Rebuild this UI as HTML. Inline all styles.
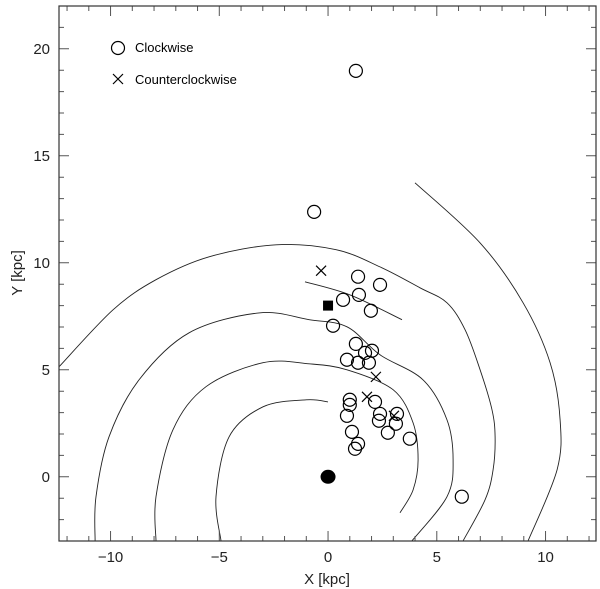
<!DOCTYPE html>
<html><head><meta charset="utf-8"><style>
html,body{margin:0;padding:0;background:#fff;}
svg{display:block;font-family:"Liberation Sans",sans-serif;}
</style></head><body>
<svg id="chart" width="600" height="589" viewBox="0 0 600 589" xmlns="http://www.w3.org/2000/svg">
<g id="arms"></g>
<g id="ticks"></g>
<rect x="59" y="6" width="537" height="535" fill="none" stroke="#333" stroke-width="1.2"/>
<g id="marks"></g>
<g id="labels" font-size="15" fill="#222"></g>
<text x="327" y="584" text-anchor="middle" font-size="15" fill="#222">X [kpc]</text>
<text x="0" y="0" transform="translate(22,273) rotate(-90)" text-anchor="middle" font-size="15" fill="#222">Y [kpc]</text>
<g>
<circle cx="118" cy="48" r="6.5" fill="none" stroke="#000" stroke-width="1.2"/>
<text x="135" y="52" font-size="13" fill="#000">Clockwise</text>
<path d="M113,74L123,84M113,84L123,74" stroke="#000" stroke-width="1.2"/>
<text x="135" y="84" font-size="13" fill="#000">Counterclockwise</text>
</g>
</svg>
<script>
const xTicks = [-10, -5, 0, 5, 10];
const yTicks = [0, 5, 10, 15, 20];
const cwX = [1.28,-0.64,1.38,2.39,1.42,0.69,1.97,0.23,1.28,1.7,2.02,0.87,1.38,1.88,1.0,1.0,2.16,0.87,2.39,3.17,2.34,3.12,1.1,2.75,1.38,1.24,3.76,6.15];
const cwY = [18.97,12.38,9.35,8.97,8.5,8.27,7.76,7.06,6.21,5.79,5.89,5.47,5.33,5.33,3.6,3.36,3.5,2.85,2.94,2.94,2.62,2.48,2.1,2.06,1.54,1.31,1.78,-0.93];
const ccwX = [-0.32,2.2,1.79,3.03];
const ccwY = [9.63,4.67,3.74,2.85];
const sunX = [0], sunY = [8.0];
const gcX = [0], gcY = [0];
const armAX=[-12.37,-9.89,-7.91,-5.47,-2.39,0.37,2.39,4.23,5.47,6.30,6.99,7.54,7.68,7.59,7.22,6.21];
const armAY=[5.14,7.80,9.21,10.28,10.84,10.61,9.81,8.83,8.13,6.87,5.0,3.13,1.87,0.33,-1.07,-2.99];
const armBX=[-10.71,-10.67,-10.07,-8.69,-6.39,-3.17,-0.87,0.87,2.39,4.37,5.47,5.75,5.47,3.86];
const armBY=[-2.99,-0.93,1.87,4.53,6.73,7.66,7.34,7.01,5.70,4.53,2.66,0.79,-0.93,-2.99];
const armCX=[-7.91,-7.91,-7.13,-5.61,-2.99,-0.87,0.87,2.99,3.91,4.14,3.91,3.31];
const armCY=[-2.99,-0.93,2.20,4.21,5.33,5.28,5.0,4.07,2.52,0.79,-0.61,-1.68];
const armDX=[-4.92,-5.15,-4.55,-2.99,-1.01,0];
const armDY=[-2.99,-0.93,1.87,3.27,3.60,3.50];
const armEX=[4.0,6.99,8.97,10.21,10.67,10.53,9.20];
const armEY=[13.74,10.93,8.13,5.33,2.66,0.33,-2.99];
const armSX=[-1.06,1.01,3.40];
const armSY=[9.11,8.50,7.34];

const X0=59,X1=596,Y0=541,Y1=6, XMIN=-12.37, XMAX=12.32, YMIN=-3, YMAX=22;
function sx(v){return X0+(v-XMIN)/(XMAX-XMIN)*(X1-X0);}
function sy(v){return Y0-(v-YMIN)/(YMAX-YMIN)*(Y0-Y1);}
const NS="http://www.w3.org/2000/svg";
function mk(tag,attrs,parent){const e=document.createElementNS(NS,tag);for(const k in attrs)e.setAttribute(k,attrs[k]);parent.appendChild(e);return e;}

const arms=document.getElementById('arms');
function armPath(xs,ys,name){
  const p=xs.map((x,i)=>[sx(x),sy(ys[i])]);
  let d='M'+p[0][0].toFixed(1)+','+p[0][1].toFixed(1);
  for(let i=0;i<p.length-1;i++){
    const a=p[Math.max(i-1,0)],b=p[i],c=p[i+1],e=p[Math.min(i+2,p.length-1)];
    const c1=[b[0]+(c[0]-a[0])/6,b[1]+(c[1]-a[1])/6],c2=[c[0]-(e[0]-b[0])/6,c[1]-(e[1]-b[1])/6];
    d+='C'+c1[0].toFixed(1)+','+c1[1].toFixed(1)+' '+c2[0].toFixed(1)+','+c2[1].toFixed(1)+' '+c[0].toFixed(1)+','+c[1].toFixed(1);
  }
  const el=mk('path',{d:d,fill:'none',stroke:'#222','stroke-width':'0.9'},arms);
  
  
}
armPath(armAX,armAY,'arm-a');
armPath(armBX,armBY,'arm-b');
armPath(armCX,armCY,'arm-c');
armPath(armDX,armDY,'arm-d');
armPath(armEX,armEY,'arm-e');
armPath(armSX,armSY,'arm-segment');

const ticks=document.getElementById('ticks');
let td='';
for(let v=-12;v<=12;v++){const x=sx(v),L=(v%5===0)?10:5;td+=`M${x},${Y0}v${-L}M${x},${Y1}v${L}`;}
for(let v=-3;v<=22;v++){const y=sy(v),L=(v%5===0)?10:5;td+=`M${X0},${y}h${L}M${X1},${y}h${-L}`;}
mk('path',{d:td,stroke:'#555','stroke-width':'1'},ticks);

const labels=document.getElementById('labels');
xTicks.forEach(v=>{const t=mk('text',{x:sx(v),y:562,'text-anchor':'middle'},labels);t.textContent=(v<0?'\u2212'+(-v):String(v));

});
yTicks.forEach(v=>{const t=mk('text',{x:50,y:sy(v)+5,'text-anchor':'end'},labels);t.textContent=String(v);

});

const marks=document.getElementById('marks');
cwX.forEach((x,i)=>{const c=mk('circle',{cx:sx(x),cy:sy(cwY[i]),r:6.5,fill:'none',stroke:'#000','stroke-width':'1.2'},marks);

});
ccwX.forEach((x,i)=>{const cx=sx(x),cy=sy(ccwY[i]);const c=mk('path',{d:`M${cx-5},${cy-5}L${cx+5},${cy+5}M${cx-5},${cy+5}L${cx+5},${cy-5}`,stroke:'#000','stroke-width':'1.2'},marks);

});
sunX.forEach((x,i)=>{const s=mk('rect',{x:sx(x)-5,y:sy(sunY[i])-5,width:10,height:10,fill:'#000'},marks);

});
gcX.forEach((x,i)=>{const g=mk('ellipse',{cx:sx(x),cy:sy(gcY[i]),rx:7.5,ry:7,fill:'#000'},marks);

});
</script>
</body></html>
